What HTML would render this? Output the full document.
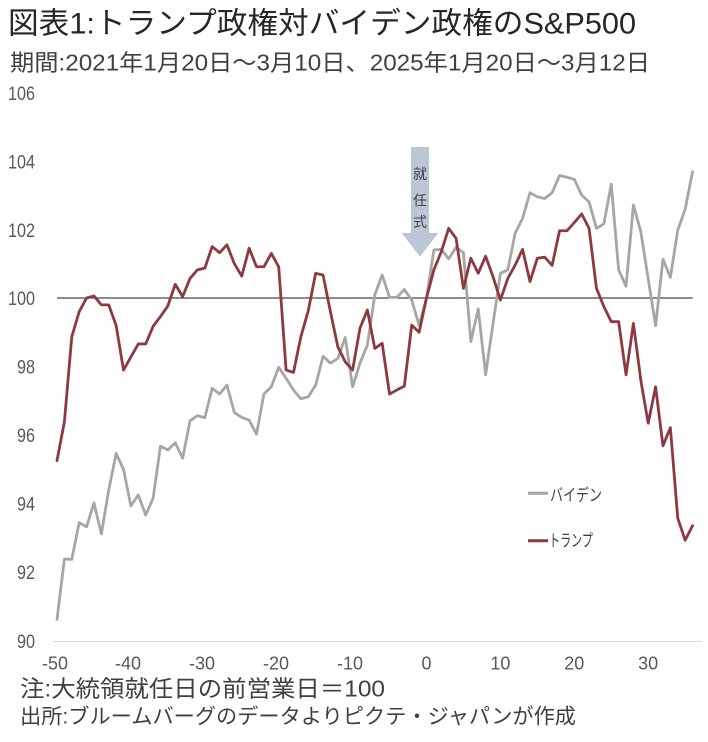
<!DOCTYPE html>
<html>
<head>
<meta charset="utf-8">
<style>
html,body{margin:0;padding:0;background:#fff;}
svg{display:block;}
text{font-family:"Liberation Sans","Noto Sans CJK JP",sans-serif;}
</style>
</head>
<body>
<svg width="708" height="742" viewBox="0 0 708 742" xmlns="http://www.w3.org/2000/svg">
<rect x="0" y="0" width="708" height="742" fill="#ffffff"/>

<!-- Title & subtitle -->
<text x="8" y="33.5" font-size="30" fill="#262626" textLength="628" lengthAdjust="spacingAndGlyphs">図表1:トランプ政権対バイデン政権のS&amp;P500</text>
<text x="10" y="70.5" font-size="23" fill="#404040" textLength="640" lengthAdjust="spacingAndGlyphs">期間:2021年1月20日～3月10日、2025年1月20日～3月12日</text>

<!-- Y axis labels -->
<g font-size="19" fill="#595959" text-anchor="end">
<text x="35" y="100" textLength="27" lengthAdjust="spacingAndGlyphs">106</text>
<text x="35" y="168.4" textLength="27" lengthAdjust="spacingAndGlyphs">104</text>
<text x="35" y="236.8" textLength="27" lengthAdjust="spacingAndGlyphs">102</text>
<text x="35" y="305.2" textLength="27" lengthAdjust="spacingAndGlyphs">100</text>
<text x="35" y="373.6" textLength="18" lengthAdjust="spacingAndGlyphs">98</text>
<text x="35" y="442" textLength="18" lengthAdjust="spacingAndGlyphs">96</text>
<text x="35" y="510.4" textLength="18" lengthAdjust="spacingAndGlyphs">94</text>
<text x="35" y="578.8" textLength="18" lengthAdjust="spacingAndGlyphs">92</text>
<text x="35" y="648" textLength="18" lengthAdjust="spacingAndGlyphs">90</text>
</g>

<!-- X axis line -->
<line x1="53" y1="641.5" x2="702" y2="641.5" stroke="#d9d9d9" stroke-width="1"/>

<!-- X tick labels -->
<g font-size="18" fill="#595959" text-anchor="middle">
<text x="55" y="669.5">-50</text>
<text x="128" y="669.5">-40</text>
<text x="202" y="669.5">-30</text>
<text x="276" y="669.5">-20</text>
<text x="350" y="669.5">-10</text>
<text x="426.5" y="669.5">0</text>
<text x="500.4" y="669.5">10</text>
<text x="574.3" y="669.5">20</text>
<text x="648.2" y="669.5">30</text>
</g>

<!-- 100 reference line -->
<line x1="57" y1="298" x2="692.7" y2="298" stroke="#1a1a1a" stroke-width="1.1"/>

<!-- Inauguration arrow -->
<rect x="411" y="147" width="18" height="86.5" fill="#bcc7d6"/>
<polygon points="401.7,233 438.3,233 420,256.7" fill="#bcc7d6"/>
<g font-size="14" fill="#404040" text-anchor="middle">
<text x="420" y="179">就</text>
<text x="420" y="205.5">任</text>
<text x="420" y="227">式</text>
</g>

<!-- Data series -->
<g transform="matrix(7.39 0 0 -34.3 426.5 3728)" fill="none" stroke-linejoin="round" stroke-linecap="round">
<polyline vector-effect="non-scaling-stroke" stroke="#a6a6a6" stroke-width="2.8" points="-50,90.63 -49,92.39 -48,92.38 -47,93.45 -46,93.33 -45,94.03 -44,93.12 -43,94.4 -42,95.47 -41,95.0 -40,93.94 -39,94.26 -38,93.67 -37,94.16 -36,95.68 -35,95.57 -34,95.78 -33,95.33 -32,96.42 -31,96.57 -30,96.51 -29,97.37 -28,97.2 -27,97.46 -26,96.66 -25,96.52 -24,96.44 -23,96.03 -22,97.2 -21,97.41 -20,97.98 -19,97.66 -18,97.32 -17,97.06 -16,97.12 -15,97.46 -14,98.3 -13,98.1 -12,98.24 -11,98.85 -10,97.41 -9,98.1 -8,98.63 -7,100.09 -6,100.67 -5,100.02 -4,100.02 -3,100.25 -2,99.94 -1,99.2 0,100 1,101.4 2,101.42 3,101.14 4,101.48 5,101.32 6,98.73 7,99.68 8,97.76 9,99.25 10,100.72 11,100.82 12,101.89 13,102.32 14,103.07 15,102.95 16,102.9 17,103.07 18,103.57 19,103.52 20,103.46 21,103 22,102.8 23,102.03 24,102.16 25,103.32 26,100.82 27,100.34 28,102.71 29,101.93 30,100.56 31,99.19 32,101.13 33,100.6 34,101.98 35,102.59 36,103.68"/>
<polyline vector-effect="non-scaling-stroke" stroke="#8c3a40" stroke-width="2.8" points="-50,95.26 -49,96.39 -48,98.87 -47,99.6 -46,100 -45,100.06 -44,99.8 -43,99.8 -42,99.2 -41,97.9 -40,98.28 -39,98.66 -38,98.66 -37,99.17 -36,99.46 -35,99.77 -34,100.4 -33,100.04 -32,100.57 -31,100.82 -30,100.87 -29,101.5 -28,101.32 -27,101.55 -26,101 -25,100.64 -24,101.45 -23,100.91 -22,100.91 -21,101.3 -20,100.91 -19,97.9 -18,97.83 -17,98.87 -16,99.63 -15,100.72 -14,100.67 -13,99.6 -12,98.58 -11,98.14 -10,97.9 -9,99.12 -8,99.65 -7,98.53 -6,98.68 -5,97.2 -4,97.32 -3,97.43 -2,99.21 -1,99 0,100 1,100.82 2,101.35 3,102.03 4,101.74 5,100.28 6,101.16 7,100.72 8,101.22 9,100.62 10,99.94 11,100.57 12,100.96 13,101.42 14,100.48 15,101.16 16,101.19 17,100.95 18,101.96 19,101.96 20,102.2 21,102.45 22,102.03 23,100.28 24,99.75 25,99.31 26,99.31 27,97.76 28,99.26 29,97.6 30,96.35 31,97.41 32,95.69 33,96.22 34,93.58 35,92.94 36,93.36"/>
</g>

<!-- Legend -->
<line x1="528" y1="493.3" x2="548" y2="493.3" stroke="#a6a6a6" stroke-width="3"/>
<text x="550" y="501" font-size="17" fill="#404040" textLength="52" lengthAdjust="spacingAndGlyphs">バイデン</text>
<line x1="528" y1="540.7" x2="548" y2="540.7" stroke="#8c3a40" stroke-width="3"/>
<text x="549" y="546.5" font-size="17" fill="#404040" textLength="44" lengthAdjust="spacingAndGlyphs">トランプ</text>

<!-- Notes -->
<text x="20" y="696.5" font-size="23" fill="#404040" textLength="365" lengthAdjust="spacingAndGlyphs">注:大統領就任日の前営業日＝100</text>
<text x="20" y="723.5" font-size="21" fill="#404040" textLength="556" lengthAdjust="spacingAndGlyphs">出所:ブルームバーグのデータよりピクテ・ジャパンが作成</text>
</svg>
</body>
</html>
